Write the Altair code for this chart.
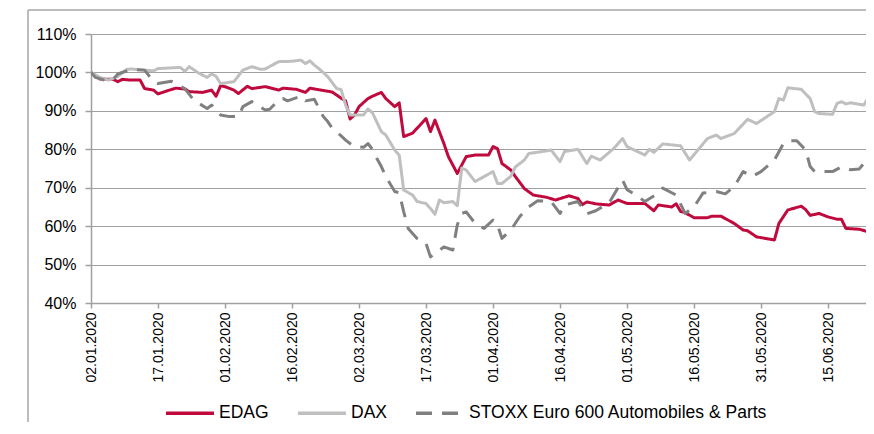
import altair as alt
import pandas as pd

series_names = ["EDAG", "DAX", "STOXX Euro 600 Automobiles & Parts"]
series_colors = ["#C00A3E", "#BFBFBF", "#808080"]
series_dash = [[1, 0], [1, 0], [16, 10]]

start_date = "2020-01-02"
end_date = "2020-06-23T12:00:00"

# x positions are day offsets from 02.01.2020
edag_day = [0, 2, 5, 6, 7, 9, 11, 12, 14, 15, 17, 19, 21, 22, 25, 27, 28, 29, 30, 32,
            33, 35, 36, 39, 42, 43, 46, 48, 49, 51, 54, 56, 57, 58, 59, 60, 62, 63, 65, 66,
            68, 69, 70, 72, 75, 76, 77, 79, 80, 82, 84, 86, 89, 90, 91, 92, 94, 95, 97, 99,
            102, 104, 107, 109, 110, 111, 113, 116, 118, 120, 124, 126, 127, 130, 131, 132, 133, 135, 138, 139,
            141, 144, 146, 147, 149, 153, 154, 156, 159, 160, 161, 163, 165, 167, 168, 169, 172, 174, 176]
edag_val = [100, 98.3, 98.2, 97.6, 98.2, 98.0, 98.0, 95.8, 95.4, 94.4, 95.2, 95.9, 95.7, 95.0, 94.8, 95.4, 93.8, 96.5, 96.3, 95.4,
            94.5, 96.4, 95.8, 96.3, 95.4, 95.9, 95.6, 94.8, 95.9, 95.5, 94.9, 93.3, 92.6, 87.9, 88.9, 91.1, 93.2, 93.8, 94.8, 93.2,
            91.1, 92.1, 83.3, 84.2, 88.0, 84.6, 87.6, 81.5, 78.1, 73.7, 78.1, 78.5, 78.5, 80.7, 80.2, 76.3, 74.6, 72.9, 69.8, 68.1,
            67.5, 66.8, 67.9, 67.2, 65.6, 66.3, 65.8, 65.5, 66.8, 65.9, 65.9, 64.0, 65.5, 65.0, 65.8, 63.8, 63.5, 62.2, 62.2, 62.6,
            62.6, 60.7, 59.0, 58.8, 57.2, 56.4, 60.7, 64.2, 65.2, 64.3, 62.8, 63.3, 62.4, 61.8, 61.8, 59.4, 59.2, 58.5, 61.0]

dax_day = [0, 2, 4, 6, 8, 9, 14, 15, 20, 21, 22, 24, 26, 27, 28, 29, 32, 34, 36, 38,
           39, 42, 45, 47, 48, 49, 50, 51, 53, 55, 56, 57, 58, 61, 62, 63, 65, 66, 68, 69,
           70, 72, 73, 75, 76, 77, 78, 79, 81, 82, 83, 84, 86, 88, 90, 91, 92, 94, 95, 97,
           98, 101, 103, 105, 106, 109, 111, 112, 114, 117, 119, 120, 124, 125, 126, 128, 132, 134, 138, 140,
           141, 144, 147, 149, 153, 154, 155, 156, 159, 161, 162, 163, 166, 167, 168, 169, 170, 173, 174, 175, 176]
dax_val = [100, 98.7, 98.0, 99.0, 100.8, 100.9, 100.4, 101.0, 101.3, 100.3, 101.5, 99.9, 98.7, 99.6, 99.0, 97.1, 97.6, 100.6, 101.5, 100.8,
           100.9, 102.8, 102.9, 103.2, 102.3, 103.0, 101.9, 101.0, 98.9, 95.8, 95.5, 91.5, 88.9, 88.9, 90.5, 89.5, 84.6, 83.7, 79.8, 78.5,
           69.4, 68.1, 66.4, 65.9, 64.6, 63.1, 66.8, 66.1, 66.4, 65.3, 75.1, 74.6, 71.6, 72.9, 74.2, 71.1, 71.1, 73.0, 75.4, 77.2,
           78.9, 79.4, 79.8, 76.8, 79.4, 80.0, 76.3, 78.2, 77.2, 80.2, 82.8, 80.7, 78.5, 80.0, 79.2, 81.4, 80.9, 77.2, 82.8, 83.7,
           82.8, 84.1, 87.8, 86.7, 89.8, 93.2, 92.8, 96.0, 95.6, 93.2, 89.8, 89.3, 89.1, 91.9, 92.4, 91.8, 92.1, 91.5, 93.4, 90.6, 90.6]

stoxx_day = [0, 1, 3, 5, 6, 9, 12, 14, 15, 18, 21, 23, 26, 27, 29, 31, 33, 34, 36, 39,
             40, 42, 43, 44, 47, 48, 50, 52, 53, 54, 56, 57, 58, 59, 61, 62, 63, 64, 65, 66,
             68, 69, 70, 71, 73, 75, 76, 79, 81, 82, 83, 84, 86, 88, 90, 91, 92, 94, 96, 98,
             100, 103, 105, 106, 109, 111, 113, 116, 119, 120, 122, 124, 127, 128, 131, 133, 135, 137, 140, 142,
             144, 146, 148, 150, 153, 155, 156, 158, 160, 161, 162, 166, 168, 170, 172, 174, 175, 176]
stoxx_val = [100, 98.7, 98.0, 98.2, 99.6, 100.8, 100.6, 97.6, 97.1, 97.7, 95.8, 92.8, 90.6, 91.5, 88.9, 88.5, 88.5, 91.1, 92.4, 90.2,
             90.4, 92.8, 93.2, 92.6, 93.8, 92.6, 93.0, 88.5, 87.2, 85.5, 83.5, 82.4, 81.5, 80.7, 80.5, 81.5, 80.0, 77.6, 75.5, 72.9,
             69.0, 68.7, 63.8, 59.4, 56.8, 55.5, 52.0, 54.6, 53.8, 60.3, 63.3, 63.7, 60.7, 59.4, 61.6, 60.3, 56.8, 59.0, 62.5, 65.0,
             66.6, 66.4, 63.3, 65.5, 66.4, 63.2, 64.0, 66.1, 72.0, 69.5, 68.1, 66.4, 68.6, 69.9, 68.1, 63.3, 65.0, 68.6, 69.0, 68.4,
             70.3, 74.2, 72.9, 74.2, 77.2, 81.5, 82.2, 82.2, 79.8, 75.5, 74.2, 74.2, 75.4, 74.7, 74.9, 77.7, 75.1, 72.9]

y_ticks = [40, 50, 60, 70, 80, 90, 100, 110]
x_tick_dates = ["2020-01-02", "2020-01-17", "2020-02-01", "2020-02-16", "2020-03-02", "2020-03-17",
                "2020-04-01", "2020-04-16", "2020-05-01", "2020-05-16", "2020-05-31", "2020-06-15"]

base = pd.Timestamp(start_date)
rows = []
for name, days, vals in zip(series_names, [edag_day, dax_day, stoxx_day], [edag_val, dax_val, stoxx_val]):
    assert len(days) == len(vals), name
    for d, v in zip(days, vals):
        rows.append({"series": name, "date": base + pd.Timedelta(days=d), "value": v})
df = pd.DataFrame(rows)


def to_dt(s):
    t = pd.Timestamp(s)
    return alt.DateTime(year=t.year, month=t.month, date=t.day, hours=t.hour)


x_ticks = [to_dt(s) for s in x_tick_dates]

legend_cfg = dict(
    orient="none", legendX=73, legendY=353, direction="horizontal", title=None,
    symbolType="stroke", symbolSize=2304, symbolStrokeWidth=3.5,
    labelFontSize=17.5, labelFont="Liberation Sans", labelColor="#000000",
    labelOffset=3, columnPadding=22, labelLimit=0,
)

lines = alt.Chart(df).mark_line(strokeWidth=3, clip=True, strokeJoin="round").encode(
    x=alt.X("date:T",
            scale=alt.Scale(domain=[to_dt(start_date), to_dt(end_date)]),
            axis=alt.Axis(values=x_ticks, format="%d.%m.%Y", labelAngle=-90, labelAlign="right",
                          labelBaseline="middle", grid=False, tickSize=5, labelPadding=4, title=None,
                          labelFontSize=14)),
    y=alt.Y("value:Q",
            scale=alt.Scale(domain=[40, 110], nice=False, zero=False),
            axis=alt.Axis(values=y_ticks, labelExpr="datum.value + '%'", grid=True, tickSize=6,
                          labelPadding=9, title=None, labelFontSize=16)),
    color=alt.Color("series:N", scale=alt.Scale(domain=series_names, range=series_colors),
                    legend=alt.Legend(**legend_cfg)),
    strokeDash=alt.StrokeDash("series:N", scale=alt.Scale(domain=series_names, range=series_dash),
                              legend=alt.Legend(**legend_cfg)),
)

frame_df = pd.DataFrame({"k": [0]})
frame_left = alt.Chart(frame_df).mark_rule(color="#A6A6A6", strokeWidth=1.5).encode(
    x=alt.value(-63), y=alt.value(-24), y2=alt.value(420))
frame_top = alt.Chart(frame_df).mark_rule(color="#A6A6A6", strokeWidth=1.5).encode(
    x=alt.value(-63), x2=alt.value(800), y=alt.value(-24))

chart = alt.layer(frame_left, frame_top, lines).properties(
    width=775, height=269,
    padding={"left": 83, "top": 26, "right": 0, "bottom": 119},
    autosize=alt.AutoSizeParams(type="none"),
).configure_view(stroke=None).configure_axis(
    labelFont="Liberation Sans", labelColor="#000000",
    domainColor="#A0A0A0", domainWidth=1.5, tickColor="#A0A0A0", tickWidth=1.5,
    gridColor="#A0A0A0", gridWidth=1.2,
)

chart.save("out.html", embed_options={"renderer": "svg", "actions": False})
